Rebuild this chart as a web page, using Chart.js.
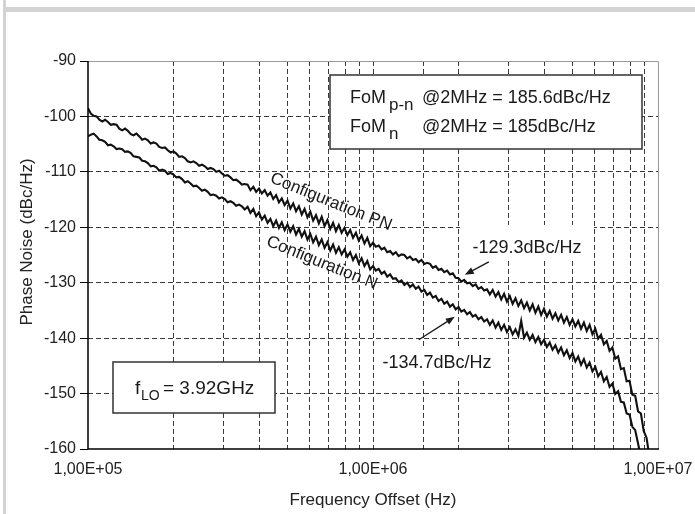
<!DOCTYPE html>
<html><head><meta charset="utf-8">
<script src="https://cdn.jsdelivr.net/npm/chart.js@4/dist/chart.umd.min.js"></script>
<style>html,body{margin:0;padding:0;background:#fff}canvas{display:block}</style>
</head><body>
<canvas id="c" width="695" height="514"></canvas>
<script>
// ---------- data ----------
const decades = [1e5, 1e6];
const mantissa = [1.000,1.023,1.047,1.072,1.096,1.122,1.148,1.175,1.202,1.230,
1.259,1.288,1.318,1.349,1.380,1.413,1.445,1.479,1.514,1.549,
1.585,1.622,1.660,1.698,1.738,1.778,1.820,1.862,1.905,1.950,
1.995,2.042,2.089,2.138,2.188,2.239,2.291,2.344,2.399,2.455,
2.512,2.570,2.630,2.692,2.754,2.818,2.884,2.951,3.020,3.090,
3.162,3.236,3.311,3.388,3.467,3.548,3.631,3.715,3.802,3.890,
3.981,4.074,4.169,4.266,4.365,4.467,4.571,4.677,4.786,4.898,
5.012,5.129,5.248,5.370,5.495,5.623,5.754,5.888,6.026,6.166,
6.310,6.457,6.607,6.761,6.918,7.079,7.244,7.413,7.586,7.762,
7.943,8.128,8.318,8.511,8.710,8.913,9.120,9.333,9.550,9.772];
const freqHz = decades.flatMap(d => mantissa.map(m => d * m)).concat([1e7]);

// Configuration PN (dBc/Hz)
const pnDb = [-98.5,-99.5,-99.9,-100.0,-100.6,-100.9,-100.6,-101.0,-101.5,-101.4,
-101.5,-102.2,-102.5,-102.2,-102.6,-103.2,-103.4,-103.1,-103.6,-104.2,
-104.0,-104.3,-104.9,-104.7,-104.9,-105.5,-105.7,-105.6,-106.1,-106.5,
-106.3,-106.7,-107.3,-107.2,-107.5,-108.1,-108.3,-108.1,-108.4,-108.9,
-108.7,-109.0,-109.5,-109.3,-109.5,-110.0,-109.8,-110.3,-110.7,-110.6,
-111.0,-111.5,-111.4,-111.8,-112.3,-112.2,-112.3,-113.3,-112.7,-113.6,
-113.0,-113.9,-113.3,-114.3,-113.7,-114.9,-114.2,-115.5,-114.8,-116.0,
-115.2,-116.6,-115.7,-117.1,-116.2,-117.7,-116.7,-118.2,-117.2,-118.8,
-117.8,-119.3,-118.1,-119.8,-118.7,-120.3,-119.2,-120.7,-119.6,-121.0,
-120.1,-121.4,-120.5,-121.9,-121.0,-122.4,-121.5,-122.9,-121.9,-123.4,
-122.8,-123.5,-123.3,-124.0,-123.7,-124.5,-124.3,-124.9,-124.5,-125.2,
-124.9,-125.0,-125.6,-125.3,-125.9,-125.7,-126.3,-125.9,-126.6,-126.4,
-126.6,-127.3,-127.0,-127.7,-127.5,-128.1,-127.8,-128.5,-128.3,-129.1,
-129.2,-129.8,-129.5,-130.1,-130.0,-130.6,-130.3,-131.1,-130.8,-131.4,
-131.2,-132.1,-131.3,-132.5,-131.7,-133.0,-132.0,-133.4,-132.4,-133.8,
-132.8,-134.2,-133.2,-134.6,-133.6,-135.0,-133.9,-135.4,-134.3,-135.8,
-134.7,-136.1,-135.1,-136.5,-135.5,-136.8,-135.8,-137.2,-136.2,-137.6,
-136.6,-137.9,-136.9,-138.3,-137.2,-138.7,-137.6,-139.3,-138.3,-140.1,
-139.4,-141.1,-140.5,-142.3,-141.7,-143.7,-143.3,-145.6,-145.4,-147.8,
-147.7,-150.2,-150.4,-153.2,-153.6,-156.8,-158.0,-161.5];

// Configuration N (dBc/Hz)
const nDb = [-103.6,-103.3,-103.1,-103.6,-104.2,-104.3,-104.6,-105.2,-105.1,-105.4,
-105.9,-105.8,-105.9,-106.4,-106.3,-106.6,-107.2,-107.3,-107.4,-108.0,
-108.1,-108.4,-109.0,-108.9,-109.2,-109.8,-109.6,-109.8,-110.4,-110.2,
-110.5,-111.0,-110.9,-111.3,-111.9,-111.7,-112.1,-112.6,-112.5,-112.9,
-113.4,-113.2,-113.6,-114.2,-114.1,-114.3,-114.8,-114.6,-114.9,-115.5,
-115.3,-115.6,-116.1,-115.9,-116.2,-116.8,-116.3,-117.4,-116.7,-118.0,
-117.3,-118.6,-117.9,-119.2,-118.5,-119.8,-118.8,-120.1,-119.1,-120.5,
-119.5,-120.8,-119.8,-121.3,-120.3,-121.7,-120.7,-122.2,-121.2,-122.7,
-121.7,-123.2,-122.2,-123.7,-122.7,-124.2,-123.1,-124.6,-123.6,-124.9,
-124.0,-125.3,-124.5,-125.9,-125.0,-126.5,-125.6,-127.0,-126.1,-127.6,
-127.0,-127.8,-127.5,-128.4,-128.0,-128.9,-128.5,-129.3,-129.2,-129.9,
-129.6,-130.4,-130.0,-130.8,-130.3,-131.1,-130.7,-131.6,-131.3,-132.2,
-131.8,-132.7,-132.4,-133.3,-132.9,-133.8,-133.4,-134.3,-133.9,-134.8,
-134.4,-135.2,-134.9,-135.7,-135.3,-136.1,-135.8,-136.6,-136.2,-137.0,
-136.6,-137.6,-136.8,-138.1,-137.2,-138.5,-137.6,-138.9,-138.0,-139.3,
-138.4,-139.6,-136.9,-139.9,-139.0,-140.3,-139.4,-140.7,-139.8,-141.1,
-140.3,-141.6,-140.8,-142.1,-141.3,-142.6,-141.7,-143.1,-142.2,-143.6,
-142.7,-144.2,-143.3,-144.8,-143.8,-145.3,-144.4,-146.0,-145.2,-146.9,
-146.1,-147.8,-147.0,-148.8,-148.2,-150.1,-149.6,-151.5,-151.6,-153.6,
-153.8,-156.0,-156.6,-159.0,-161.5];

const yTicks = [-90, -100, -110, -120, -130, -140, -150, -160];
const xDecadeTicks = [1e5, 1e6, 1e7];
const xTickLabels = ['1,00E+05', '1,00E+06', '1,00E+07'];

// ---------- drawing ----------
const FONT = '"Liberation Sans", Arial, Helvetica, sans-serif';
const INK = '#1a1a1a';

function arrow(c, x1, y1, x2, y2) {
  const a = Math.atan2(y2 - y1, x2 - x1), L = 9, W = 3.5;
  c.beginPath(); c.moveTo(x1, y1); c.lineTo(x2 - Math.cos(a) * L * 0.8, y2 - Math.sin(a) * L * 0.8); c.stroke();
  c.beginPath();
  c.moveTo(x2, y2);
  c.lineTo(x2 - Math.cos(a) * L + Math.sin(a) * W, y2 - Math.sin(a) * L - Math.cos(a) * W);
  c.lineTo(x2 - Math.cos(a) * L - Math.sin(a) * W, y2 - Math.sin(a) * L + Math.cos(a) * W);
  c.closePath(); c.fill();
}

const deco = {
  id: 'deco',
  beforeDraw(chart) {
    const c = chart.ctx;
    c.save();
    c.fillStyle = '#fff'; c.fillRect(0, 0, chart.width, chart.height);
    c.fillStyle = '#d3d3d3';
    c.fillRect(3, 0, 3, chart.height);
    c.fillRect(3, 7, chart.width, 5);
    c.restore();
  },
  beforeDatasetsDraw(chart) {
    const c = chart.ctx, xs = chart.scales.x, ys = chart.scales.y;
    c.save();
    c.fillStyle = INK; c.strokeStyle = INK;
    function box(x, y, w, h, border) {
      c.fillStyle = '#fff'; c.fillRect(x, y, w, h);
      if (border) { c.strokeStyle = '#333'; c.lineWidth = 1.5; c.strokeRect(x, y, w, h); }
      c.fillStyle = INK; c.strokeStyle = INK;
    }
    box(330, 75, 312, 74, true);
    box(113, 362, 162, 51, true);
    box(460, 225, 134, 36, false);
    box(380, 346, 112, 32, false);

    c.textBaseline = 'alphabetic'; c.textAlign = 'left';
    // FoM text
    c.font = '18px ' + FONT;
    c.fillText('FoM', 350, 103);
    c.fillText('@2MHz = 185.6dBc/Hz', 422, 103);
    c.fillText('FoM', 350, 132);
    c.fillText('@2MHz = 185dBc/Hz', 422, 132);
    c.font = '17px ' + FONT;
    c.fillText('p-n', 389, 110);
    c.fillText('n', 389, 139);
    // f_LO
    c.font = '19px ' + FONT;
    c.fillText('f', 135, 394);
    c.fillText('= 3.92GHz', 163, 394);
    c.font = '14px ' + FONT;
    c.fillText('LO', 141, 400);

    // value labels
    c.font = '18px ' + FONT; c.textAlign = 'center';
    c.fillText('-129.3dBc/Hz', 527, 253);
    c.fillText('-134.7dBc/Hz', 437, 368);

    // arrows to the 2 MHz points
    const px = xs.getPixelForValue(2e6);
    const pPN = ys.getPixelForValue(-129.3), pN = ys.getPixelForValue(-134.7);
    c.lineWidth = 1.3;
    arrow(c, px + 30, pPN - 17, px + 6, pPN - 4);
    arrow(c, px - 40, pN + 31, px - 4, pN + 8);

    // curve labels
    c.font = '17px ' + FONT; c.textBaseline = 'middle';
    c.save(); c.translate(331, 202); c.rotate(22 * Math.PI / 180); c.fillText('Configuration PN', 0, 0); c.restore();
    c.save(); c.translate(322, 263); c.rotate(22 * Math.PI / 180); c.fillText('Configuration N', 0, 0); c.restore();

    // axis titles
    c.font = '17px ' + FONT; c.fillStyle = '#222';
    c.fillText('Frequency Offset (Hz)', (chart.chartArea.left + chart.chartArea.right) / 2, 500);
    c.save(); c.translate(27, 242); c.rotate(-Math.PI / 2); c.fillText('Phase Noise (dBc/Hz)', 0, 0); c.restore();
    c.restore();
  },
  afterDatasetsDraw(chart) {
    const c = chart.ctx, a = chart.chartArea;
    c.save();
    c.strokeStyle = '#9a9a9a'; c.lineWidth = 1;
    c.beginPath(); c.moveTo(a.left, a.top + 0.5); c.lineTo(a.right + 0.5, a.top + 0.5); c.lineTo(a.right + 0.5, a.bottom); c.stroke();
    c.strokeStyle = '#000'; c.lineWidth = 1.5;
    c.beginPath(); c.moveTo(a.left, a.top); c.lineTo(a.left, a.bottom); c.lineTo(a.right + 1, a.bottom); c.stroke();
    c.restore();
  }
};

const edgeY = v => v === yTicks[0] || v === yTicks[yTicks.length - 1];
const edgeX = v => Math.abs(v - xDecadeTicks[0]) < 1 || Math.abs(v - xDecadeTicks[2]) < 1;

new Chart(document.getElementById('c'), {
  type: 'line',
  data: {
    datasets: [
      { label: 'Configuration PN', data: pnDb.map((v, i) => ({ x: freqHz[i], y: v })),
        borderColor: '#111', borderWidth: 2.1, pointRadius: 0, tension: 0 },
      { label: 'Configuration N', data: nDb.map((v, i) => ({ x: freqHz[i], y: v })),
        borderColor: '#111', borderWidth: 2.1, pointRadius: 0, tension: 0 }
    ]
  },
  options: {
    responsive: false, animation: false, devicePixelRatio: 1,
    layout: { padding: { left: 0, top: 61, right: 37, bottom: 0 } },
    plugins: { legend: { display: false }, tooltip: { enabled: false } },
    scales: {
      x: {
        type: 'logarithmic', min: 1e5, max: 1e7,
        afterFit(s) { s.height = 65; s.paddingLeft = 0; s.paddingRight = 0; },
        grid: { color: c => (c.tick && edgeX(c.tick.value)) ? 'rgba(0,0,0,0)' : '#3a3a3a',
                lineWidth: 1, borderDash: [5, 3], drawTicks: false },
        border: { display: false, dash: [5, 3] },
        ticks: { autoSkip: false, maxRotation: 0, minRotation: 0, padding: 11, color: '#222',
                 font: { family: FONT, size: 16 },
                 callback: (v) => { const i = xDecadeTicks.findIndex(d => Math.abs(d - v) < 1); return i >= 0 ? xTickLabels[i] : ''; } }
      },
      y: {
        min: -160, max: -90,
        afterBuildTicks(s) { s.ticks = yTicks.map(v => ({ value: v })); },
        afterFit(s) { s.width = 88; s.paddingTop = 0; s.paddingBottom = 0; },
        grid: { color: c => (c.tick && edgeY(c.tick.value)) ? 'rgba(0,0,0,0)' : '#3a3a3a',
                lineWidth: 1, borderDash: [5, 3], tickLength: 8, tickColor: '#000', tickWidth: 1, tickBorderDash: [] },
        border: { display: false, dash: [5, 3] },
        ticks: { padding: 4, color: '#222', font: { family: FONT, size: 16 }, callback: v => String(v) }
      }
    }
  }
  ,plugins: [deco]
});
</script>
</body></html>
